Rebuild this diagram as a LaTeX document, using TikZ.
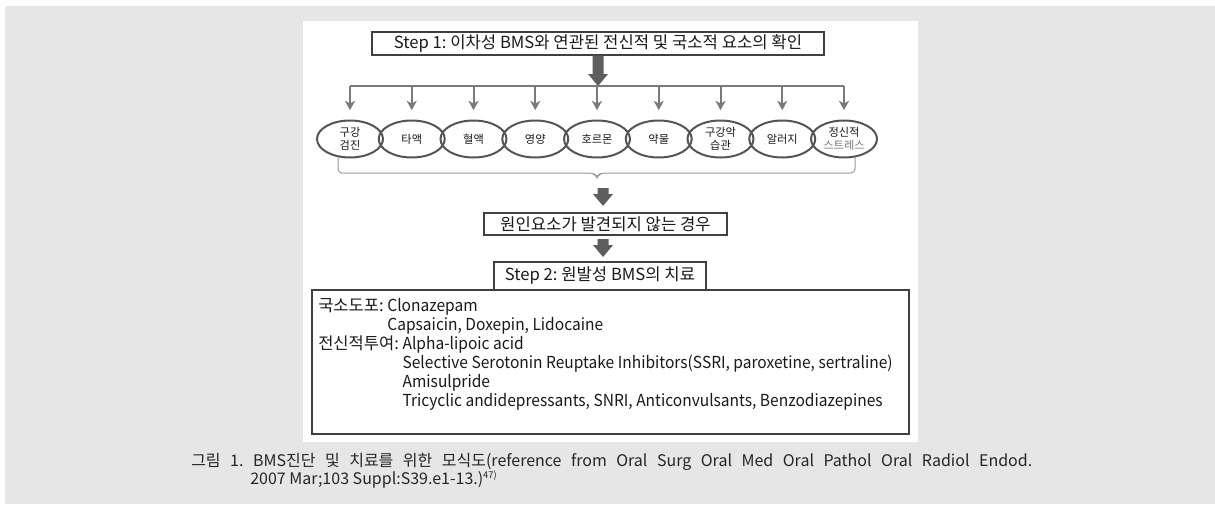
\documentclass[tikz,border=0pt]{standalone}
\usepackage{fontspec}
\setmainfont{Noto Sans CJK KR}
\newfontfamily\latn[FakeStretch=0.94]{Noto Sans CJK KR}
\usetikzlibrary{shapes.geometric,arrows.meta,calc}
\definecolor{bg}{HTML}{E6E6E6}
\definecolor{arr}{HTML}{7A7A7A}
\definecolor{big}{HTML}{5E5E5E}
\definecolor{ell}{HTML}{555555}
\definecolor{brc}{HTML}{9A9A9A}
\definecolor{boxc}{HTML}{404040}
\definecolor{txt}{HTML}{1A1A1A}
\definecolor{soft}{HTML}{7A7A7A}
\newcommand\blockarrow[2]{%
  \fill[bigarrow] let \p1=(#1), \p2=(#2) in
    (\x1-4.125pt,\y1) -- (\x1-4.125pt,\y2+9pt) -- (\x1-7.5pt,\y2+9pt) -- (\x1,\y2)
    -- (\x1+7.5pt,\y2+9pt) -- (\x1+4.125pt,\y2+9pt) -- (\x1+4.125pt,\y1) -- cycle;}
\begin{document}
\frenchspacing
\begin{tikzpicture}[x=0.75pt,y=-0.75pt,
  headbox/.style={draw=boxc, line width=0.8pt, inner sep=0pt, text=txt,
    font=\fontsize{12.5pt}{14pt}\selectfont},
  factor/.style={ellipse, draw=ell, line width=1.5pt, minimum width=49.5pt,
    minimum height=27.75pt, inner sep=0pt, align=center, text=txt,
    font=\fontsize{8.4pt}{9.75pt}\selectfont},
  feed/.style={draw=arr, line width=1.5pt},
  feedarrow/.style={feed, -{Stealth[length=7pt,width=7.5pt,inset=2pt]}, shorten >=7pt},
  bigarrow/.style={fill=big},
  brace/.style={draw=brc, line width=0.75pt, rounded corners=3pt},
  drug/.style={anchor=base west, inner sep=0pt, text=txt,
    font=\fontsize{12.4pt}{14pt}\selectfont},
  caption/.style={anchor=base west, inner sep=0pt, text=black!85,
    font=\fontsize{12pt}{14pt}\selectfont}
]
\useasboundingbox (0,0) rectangle (1215,504);
\fill[white] (0,0) rectangle (1215,504);
\fill[bg] (5,6) rectangle (1215,504);
\fill[white] (303,21) rectangle (918,442);

% Step 1
\node[headbox, minimum width=339pt, minimum height=17.25pt] (s1) at (598,43.5)
  {Step 1: 이차성 BMS와 연관된 전신적 및 국소적 요소의 확인};
\coordinate (bus) at (598,86);
\blockarrow{s1.south}{bus}

% factors
\foreach \i/\t in {1/{구강\\검진},2/타액,3/혈액,4/영양,5/호르몬,6/약물,7/{구강악\\습관},8/알러지,9/{정신적\\{\color{soft}스트레스}}}{
  \node[factor] (e\i) at ({350+61.75*(\i-1)},139) {\t};
}
\draw[feed] (e1.north |- bus) -- (e9.north |- bus);
\foreach \i in {1,...,9}{
  \draw[feedarrow] (e\i.north |- bus) -- (e\i.north);
}

% brace
\draw[brace] (338,157) -- (338,173) -- (594,173) -- (597,178) -- (600,173) -- (855,173) -- (855,157);
\coordinate (a2s) at (603,188);
\coordinate (a2e) at (603,206);
\blockarrow{a2s}{a2e}

% no cause found
\node[headbox, minimum width=182.25pt, minimum height=16.5pt] (b2) at (605.5,224)
  {원인요소가 발견되지 않는 경우};
\coordinate (a3s) at (603,239);
\coordinate (a3e) at (603,257);
\blockarrow{a3s}{a3e}

% Step 2
\node[headbox, minimum width=159pt, minimum height=21pt] (s2) at (600,276)
  {Step 2: 원발성 BMS의 치료};
\node[draw=boxc, line width=0.8pt, minimum width=447.75pt, minimum height=108pt, inner sep=0pt]
  (tx) at (610.5,362) {};
\node[drug] (l1) at (318,311) {국소도포: {\latn Clonazepam}};
\node[drug] (l2) at (318,330) {\phantom{국소도포: }{\latn Capsaicin, Doxepin, Lidocaine}};
\node[drug] (l3) at (318,349) {전신적투여: {\latn Alpha-lipoic acid}};
\node[drug] (l4) at (318,368) {\phantom{전신적투여: }{\latn Selective Serotonin Reuptake Inhibitors(SSRI, paroxetine, sertraline)}};
\node[drug] (l5) at (318,387) {\phantom{전신적투여: }{\latn Amisulpride}};
\node[drug] (l6) at (318,406) {\phantom{전신적투여: }{\latn Tricyclic andidepressants, SNRI, Anticonvulsants, Benzodiazepines}};

% caption
\node[caption] (c1) at (191,466) {\makebox[630.75pt][s]{그림 1. BMS진단 및 치료를 위한 모식도(reference from Oral Surg Oral Med Oral Pathol Oral Radiol Endod.}};
\node[caption] (c2) at (250,484) {2007 Mar;103 Suppl:S39.e1-13.)\textsuperscript{\fontsize{7pt}{8pt}\selectfont 47)}};
\end{tikzpicture}
\end{document}
